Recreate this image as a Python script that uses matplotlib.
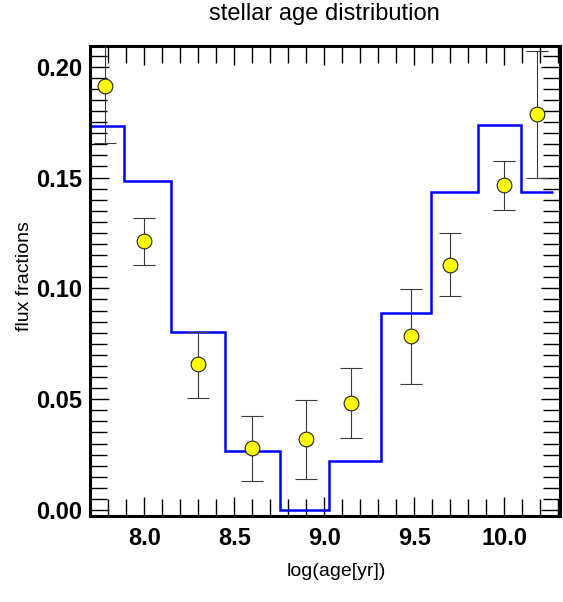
import numpy as np
import matplotlib
matplotlib.use("Agg")
import matplotlib.pyplot as plt
from matplotlib.ticker import MultipleLocator

plt.rcParams['font.family'] = ['Liberation Sans', 'DejaVu Sans']

# log ages of the components and the fitted flux fractions
log_age = [7.78, 8.00, 8.30, 8.60, 8.90, 9.15, 9.48, 9.70, 10.00, 10.18]
flux_frac = [0.1913, 0.1214, 0.0657, 0.0278, 0.0320, 0.0483, 0.0785, 0.1107, 0.1465, 0.1786]
err_low = [0.0258, 0.0110, 0.0150, 0.0146, 0.0180, 0.0157, 0.0216, 0.0140, 0.0113, 0.0289]
err_high = [0.0258, 0.0105, 0.0148, 0.0146, 0.0176, 0.0156, 0.0214, 0.0143, 0.0111, 0.0287]

# model histogram (step line)
bin_edges = [7.67, 7.89, 8.15, 8.45, 8.755, 9.025, 9.315, 9.59, 9.855, 10.09, 10.27]
model_frac = [0.1734, 0.1485, 0.0805, 0.0268, 0.0002, 0.0223, 0.0889, 0.1437, 0.1737, 0.1437]

fig = plt.figure(figsize=(5.63, 6.02), dpi=100)
ax = fig.add_axes([0.1593, 0.1424, 0.8353, 0.7807])

ax.stairs(model_frac, bin_edges, baseline=None, color='#0000ff', lw=1.8, zorder=2)

ax.errorbar(log_age, flux_frac, yerr=[err_low, err_high], fmt='none',
            ecolor='#3a3a3a', elinewidth=0.8, capsize=7.9, capthick=0.8, zorder=3)
ax.plot(log_age, flux_frac, 'o', ms=10.6, mfc='#ffff00', mec='#222222', mew=0.8,
        zorder=4)

ax.set_xlim(7.697, 10.309)
ax.set_ylim(-0.0028, 0.2092)

ax.xaxis.set_major_locator(MultipleLocator(0.5))
ax.xaxis.set_minor_locator(MultipleLocator(0.1))
ax.yaxis.set_major_locator(MultipleLocator(0.05))
ax.yaxis.set_minor_locator(MultipleLocator(0.005))
ax.xaxis.set_major_formatter(matplotlib.ticker.FormatStrFormatter('%.1f'))
ax.yaxis.set_major_formatter(matplotlib.ticker.FormatStrFormatter('%.2f'))

ax.tick_params(which='both', direction='in', top=True, right=True, width=1.0,
               color='black')
ax.tick_params(which='major', length=14)
ax.tick_params(which='minor', length=12)
ax.tick_params(axis='x', which='major', pad=8)
ax.tick_params(axis='y', which='major', pad=5.5)
for lab in ax.get_xticklabels() + ax.get_yticklabels():
    lab.set_fontsize(17)
    lab.set_fontweight('bold')

for sp in ax.spines.values():
    sp.set_linewidth(2.2)

ax.set_title('stellar age distribution', fontsize=17, pad=19)
ax.set_xlabel('log(age[yr])', fontsize=14)
ax.xaxis.set_label_coords(0.525, -0.1)
fig.text(25 / 563, 1 - 276 / 602, 'flux fractions', rotation=90, fontsize=14,
         ha='center', va='center')

fig.savefig('out.png', dpi=100)
